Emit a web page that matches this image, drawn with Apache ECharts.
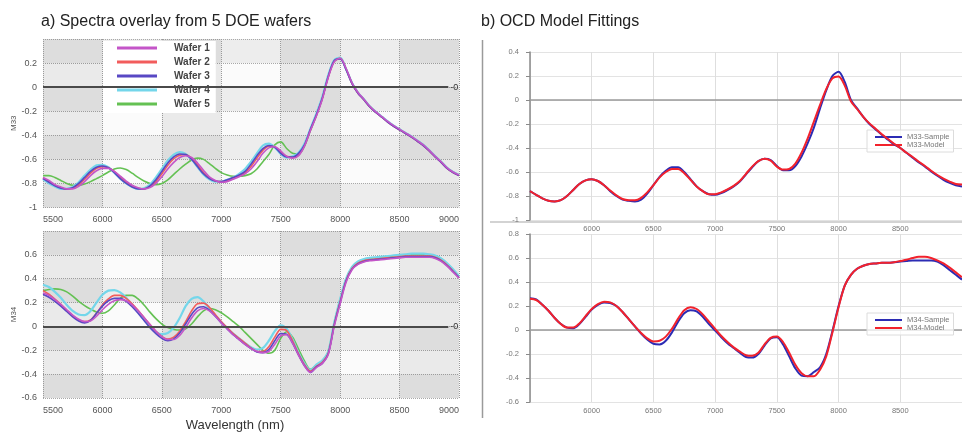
<!doctype html>
<html lang="en">
<head>
	<meta charset="utf-8">
	<title>Spectra overlay and OCD model fittings</title>
	<script src="https://cdn.jsdelivr.net/npm/echarts/dist/echarts.min.js"></script>
	<style>
		html, body { margin: 0; padding: 0; background: #fff; }
		#chart { width: 962px; height: 433px; }
	</style>
</head>
<body>
	<div id="chart"></div>
	<script>
		// wavelength grid (nm), shared by every curve
		var wavelength = [5500, 5550, 5600, 5650, 5700, 5750, 5800, 5850, 5900, 5950,
			6000, 6050, 6100, 6150, 6200, 6250, 6300, 6350, 6400, 6450,
			6500, 6550, 6600, 6650, 6700, 6750, 6800, 6850, 6900, 6950,
			7000, 7050, 7100, 7150, 7200, 7250, 7300, 7350, 7400, 7450,
			7500, 7550, 7600, 7650, 7700, 7750, 7800, 7850, 7900, 7950,
			8000, 8050, 8100, 8150, 8200, 8250, 8300, 8350, 8400, 8450,
			8500, 8550, 8600, 8650, 8700, 8750, 8800, 8850, 8900, 8950,
			9000];

		var waferNames = ['Wafer 1', 'Wafer 2', 'Wafer 3', 'Wafer 4', 'Wafer 5'];
		var waferColors = ['#c455c8', '#f25c5c', '#5848c4', '#74d6ea', '#64c153'];

		// a) M33 per wafer
		var m33Wafer1 = [-0.75, -0.775, -0.81, -0.83, -0.845, -0.845, -0.825, -0.785, -0.735, -0.695,
			-0.675, -0.675, -0.70, -0.74, -0.78, -0.815, -0.835, -0.845, -0.835, -0.80,
			-0.745, -0.68, -0.625, -0.585, -0.57, -0.585, -0.63, -0.69, -0.745, -0.775,
			-0.79, -0.785, -0.765, -0.745, -0.72, -0.68, -0.62, -0.55, -0.505, -0.495,
			-0.53, -0.575, -0.59, -0.57, -0.49, -0.36, -0.24, -0.10, 0.08, 0.21,
			0.24, 0.155, 0.035, -0.045, -0.10, -0.16, -0.205, -0.245, -0.285, -0.32,
			-0.35, -0.38, -0.41, -0.445, -0.48, -0.525, -0.575, -0.62, -0.67, -0.705,
			-0.73];
		var m33Wafer2 = [-0.755, -0.785, -0.815, -0.835, -0.845, -0.84, -0.81, -0.765, -0.715, -0.675,
			-0.66, -0.67, -0.70, -0.745, -0.79, -0.825, -0.84, -0.845, -0.825, -0.785,
			-0.72, -0.65, -0.595, -0.565, -0.56, -0.59, -0.645, -0.71, -0.755, -0.78,
			-0.785, -0.775, -0.755, -0.735, -0.71, -0.66, -0.59, -0.525, -0.49, -0.495,
			-0.54, -0.575, -0.585, -0.565, -0.485, -0.355, -0.235, -0.095, 0.085, 0.215,
			0.24, 0.15, 0.03, -0.05, -0.105, -0.165, -0.21, -0.25, -0.29, -0.325,
			-0.355, -0.385, -0.415, -0.45, -0.485, -0.53, -0.58, -0.625, -0.675, -0.71,
			-0.735];
		var m33Wafer3 = [-0.76, -0.79, -0.82, -0.84, -0.845, -0.835, -0.80, -0.75, -0.70, -0.665,
			-0.655, -0.67, -0.71, -0.76, -0.80, -0.83, -0.845, -0.845, -0.82, -0.77,
			-0.70, -0.63, -0.58, -0.555, -0.56, -0.60, -0.66, -0.72, -0.76, -0.78,
			-0.785, -0.77, -0.75, -0.73, -0.70, -0.64, -0.57, -0.51, -0.485, -0.50,
			-0.55, -0.58, -0.58, -0.55, -0.48, -0.35, -0.23, -0.09, 0.09, 0.22,
			0.235, 0.145, 0.03, -0.05, -0.105, -0.165, -0.21, -0.25, -0.29, -0.325,
			-0.355, -0.385, -0.415, -0.45, -0.485, -0.53, -0.58, -0.625, -0.675, -0.71,
			-0.735];
		var m33Wafer4 = [-0.765, -0.80, -0.825, -0.845, -0.845, -0.83, -0.79, -0.735, -0.685, -0.65,
			-0.645, -0.665, -0.71, -0.76, -0.80, -0.83, -0.845, -0.84, -0.81, -0.75,
			-0.68, -0.61, -0.56, -0.54, -0.555, -0.60, -0.665, -0.725, -0.765, -0.785,
			-0.785, -0.77, -0.75, -0.72, -0.68, -0.62, -0.55, -0.485, -0.47, -0.50,
			-0.555, -0.585, -0.575, -0.545, -0.47, -0.345, -0.22, -0.08, 0.10, 0.225,
			0.245, 0.15, 0.035, -0.045, -0.10, -0.16, -0.205, -0.245, -0.285, -0.32,
			-0.35, -0.38, -0.41, -0.445, -0.48, -0.525, -0.575, -0.62, -0.67, -0.705,
			-0.73];
		var m33Wafer5 = [-0.735, -0.735, -0.75, -0.775, -0.80, -0.815, -0.815, -0.805, -0.785, -0.76,
			-0.735, -0.705, -0.68, -0.672, -0.685, -0.715, -0.75, -0.78, -0.80, -0.81,
			-0.80, -0.77, -0.725, -0.68, -0.64, -0.605, -0.59, -0.60, -0.635, -0.675,
			-0.71, -0.73, -0.74, -0.74, -0.735, -0.72, -0.68, -0.62, -0.56, -0.48,
			-0.455, -0.51, -0.55, -0.555, -0.49, -0.36, -0.235, -0.09, 0.09, 0.215,
			0.24, 0.15, 0.035, -0.045, -0.10, -0.16, -0.205, -0.245, -0.285, -0.32,
			-0.35, -0.38, -0.41, -0.445, -0.48, -0.525, -0.575, -0.62, -0.67, -0.705,
			-0.73];

		// a) M34 per wafer
		var m34Wafer1 = [0.28, 0.26, 0.225, 0.185, 0.14, 0.095, 0.06, 0.04, 0.045, 0.085,
			0.14, 0.185, 0.215, 0.225, 0.215, 0.18, 0.13, 0.075, 0.015, -0.04,
			-0.085, -0.11, -0.11, -0.075, -0.01, 0.07, 0.13, 0.15, 0.13, 0.085,
			0.03, -0.02, -0.07, -0.11, -0.15, -0.185, -0.21, -0.22, -0.21, -0.15,
			-0.08, -0.07, -0.14, -0.24, -0.33, -0.385, -0.345, -0.31, -0.235, 0.0,
			0.19, 0.37, 0.475, 0.52, 0.54, 0.55, 0.555, 0.56, 0.565, 0.57,
			0.575, 0.58, 0.58, 0.58, 0.58, 0.58, 0.57, 0.545, 0.505, 0.455,
			0.405];
		var m34Wafer2 = [0.30, 0.27, 0.23, 0.185, 0.135, 0.09, 0.055, 0.04, 0.055, 0.11,
			0.18, 0.23, 0.26, 0.26, 0.235, 0.19, 0.135, 0.075, 0.015, -0.04,
			-0.085, -0.105, -0.09, -0.04, 0.04, 0.13, 0.19, 0.195, 0.16, 0.10,
			0.04, -0.01, -0.06, -0.10, -0.14, -0.18, -0.21, -0.21, -0.17, -0.09,
			-0.025, -0.035, -0.12, -0.23, -0.32, -0.375, -0.335, -0.30, -0.225, 0.015,
			0.21, 0.385, 0.485, 0.53, 0.55, 0.56, 0.565, 0.57, 0.575, 0.58,
			0.585, 0.59, 0.59, 0.59, 0.59, 0.59, 0.58, 0.555, 0.515, 0.465,
			0.41];
		var m34Wafer3 = [0.27, 0.245, 0.21, 0.17, 0.125, 0.08, 0.045, 0.03, 0.05, 0.11,
			0.17, 0.215, 0.235, 0.235, 0.21, 0.165, 0.11, 0.05, -0.01, -0.06,
			-0.10, -0.12, -0.105, -0.055, 0.02, 0.10, 0.155, 0.165, 0.135, 0.085,
			0.03, -0.02, -0.07, -0.11, -0.15, -0.185, -0.215, -0.22, -0.195, -0.12,
			-0.06, -0.065, -0.14, -0.24, -0.33, -0.385, -0.34, -0.31, -0.23, 0.01,
			0.20, 0.38, 0.48, 0.525, 0.545, 0.555, 0.56, 0.565, 0.57, 0.575,
			0.58, 0.585, 0.585, 0.585, 0.585, 0.585, 0.575, 0.55, 0.51, 0.46,
			0.41];
		var m34Wafer4 = [0.35, 0.33, 0.29, 0.24, 0.18, 0.13, 0.10, 0.095, 0.13, 0.20,
			0.265, 0.30, 0.305, 0.285, 0.24, 0.18, 0.12, 0.06, 0.0, -0.045,
			-0.065, -0.055, -0.01, 0.07, 0.17, 0.23, 0.245, 0.21, 0.15, 0.09,
			0.035, -0.015, -0.06, -0.10, -0.14, -0.175, -0.195, -0.18, -0.12, -0.04,
			0.01, -0.02, -0.11, -0.22, -0.31, -0.365, -0.32, -0.285, -0.21, 0.03,
			0.23, 0.40, 0.50, 0.545, 0.565, 0.575, 0.58, 0.585, 0.59, 0.595,
			0.60, 0.605, 0.61, 0.61, 0.61, 0.605, 0.595, 0.57, 0.53, 0.48,
			0.42];
		var m34Wafer5 = [0.30, 0.31, 0.315, 0.31, 0.29, 0.255, 0.21, 0.175, 0.145, 0.12,
			0.11, 0.13, 0.18, 0.235, 0.26, 0.26, 0.23, 0.18, 0.12, 0.065,
			0.02, -0.01, -0.025, -0.03, -0.02, 0.02, 0.08, 0.13, 0.15, 0.14,
			0.115, 0.08, 0.04, 0.0, -0.05, -0.10, -0.15, -0.20, -0.225, -0.20,
			-0.10, -0.045, -0.09, -0.19, -0.29, -0.36, -0.325, -0.29, -0.21, 0.025,
			0.225, 0.395, 0.495, 0.54, 0.56, 0.57, 0.575, 0.58, 0.585, 0.59,
			0.595, 0.60, 0.60, 0.60, 0.60, 0.60, 0.59, 0.565, 0.525, 0.475,
			0.42];

		// b) OCD model fittings
		var m33Sample = [-0.76, -0.79, -0.82, -0.84, -0.845, -0.835, -0.80, -0.75, -0.70, -0.67,
			-0.66, -0.675, -0.71, -0.76, -0.80, -0.83, -0.84, -0.845, -0.83, -0.78,
			-0.71, -0.64, -0.59, -0.56, -0.56, -0.60, -0.66, -0.72, -0.76, -0.785,
			-0.79, -0.775, -0.75, -0.72, -0.68, -0.62, -0.56, -0.51, -0.49, -0.50,
			-0.55, -0.585, -0.585, -0.55, -0.47, -0.36, -0.23, -0.07, 0.08, 0.20,
			0.235, 0.15, 0.0, -0.07, -0.14, -0.20, -0.245, -0.29, -0.33, -0.37,
			-0.40, -0.44, -0.48, -0.52, -0.555, -0.595, -0.63, -0.665, -0.69, -0.71,
			-0.72];
		var m33Model = [-0.76, -0.79, -0.82, -0.84, -0.845, -0.835, -0.80, -0.75, -0.70, -0.67,
			-0.66, -0.675, -0.71, -0.755, -0.795, -0.825, -0.835, -0.835, -0.815, -0.77,
			-0.71, -0.645, -0.60, -0.575, -0.575, -0.61, -0.665, -0.72, -0.76, -0.785,
			-0.785, -0.77, -0.745, -0.715, -0.675, -0.615, -0.555, -0.51, -0.49, -0.505,
			-0.555, -0.58, -0.575, -0.53, -0.44, -0.32, -0.18, -0.04, 0.09, 0.18,
			0.195, 0.12, -0.01, -0.075, -0.14, -0.195, -0.24, -0.285, -0.325, -0.365,
			-0.40, -0.44, -0.475, -0.515, -0.55, -0.59, -0.625, -0.655, -0.68, -0.70,
			-0.705];
		var m34Sample = [0.265, 0.255, 0.21, 0.16, 0.10, 0.05, 0.02, 0.015, 0.05, 0.11,
			0.17, 0.21, 0.23, 0.225, 0.20, 0.15, 0.09, 0.03, -0.03, -0.08,
			-0.115, -0.12, -0.09, -0.02, 0.07, 0.14, 0.165, 0.155, 0.11, 0.05,
			-0.005, -0.06, -0.11, -0.15, -0.19, -0.225, -0.23, -0.20, -0.13, -0.07,
			-0.06, -0.12, -0.22, -0.32, -0.38, -0.385, -0.35, -0.31, -0.20, -0.01,
			0.20, 0.37, 0.46, 0.51, 0.535, 0.55, 0.555, 0.56, 0.56, 0.565,
			0.57, 0.575, 0.58, 0.58, 0.58, 0.58, 0.57, 0.54, 0.50, 0.46,
			0.42];
		var m34Model = [0.26, 0.25, 0.21, 0.16, 0.10, 0.05, 0.02, 0.02, 0.055, 0.115,
			0.175, 0.215, 0.235, 0.23, 0.20, 0.15, 0.09, 0.03, -0.025, -0.07,
			-0.095, -0.09, -0.055, 0.01, 0.095, 0.165, 0.19, 0.175, 0.13, 0.07,
			0.01, -0.05, -0.10, -0.145, -0.18, -0.21, -0.215, -0.19, -0.12, -0.065,
			-0.055, -0.10, -0.19, -0.29, -0.36, -0.385, -0.385, -0.33, -0.22, -0.02,
			0.19, 0.37, 0.46, 0.51, 0.535, 0.55, 0.555, 0.56, 0.56, 0.565,
			0.575, 0.585, 0.60, 0.61, 0.61, 0.60, 0.58, 0.555, 0.52, 0.48,
			0.44];

		var m33Wafers = [m33Wafer1, m33Wafer2, m33Wafer3, m33Wafer4, m33Wafer5];
		var m34Wafers = [m34Wafer1, m34Wafer2, m34Wafer3, m34Wafer4, m34Wafer5];
		// drawing order, back to front
		var drawOrder = [4, 3, 1, 2, 0];

		function pairs(values) {
			return wavelength.map(function (w, i) { return [w, values[i]]; });
		}
		function plain(v) { return String(v); }

		var fontMain = 'Liberation Sans, Arial, sans-serif';

		function leftX(gridIndex) {
			return {
				type: 'value', gridIndex: gridIndex, min: 5500, max: 9000, interval: 500,
				axisLine: { show: false }, axisTick: { show: false },
				axisLabel: { fontSize: 9, color: '#555', margin: 8, fontFamily: fontMain, formatter: plain, alignMinLabel: 'left', alignMaxLabel: 'right' },
				splitLine: { show: true, lineStyle: { type: 'dotted', color: '#9a9a9a' } },
				splitArea: { show: true, areaStyle: { color: ['rgba(0,0,0,0.065)', 'rgba(0,0,0,0)'] } }
			};
		}
		function leftY(gridIndex, min, max, name) {
			return {
				type: 'value', gridIndex: gridIndex, min: min, max: max, interval: 0.2,
				name: name, nameLocation: 'middle', nameGap: 24,
				nameTextStyle: { fontSize: 8, color: '#555', fontFamily: fontMain },
				axisLine: { show: false }, axisTick: { show: false },
				axisLabel: { fontSize: 9, color: '#555', margin: 6, fontFamily: fontMain, showMaxLabel: false },
				splitLine: { show: true, lineStyle: { type: 'dotted', color: '#a8a8a8' } },
				splitArea: { show: true, areaStyle: { color: ['rgba(0,0,0,0.055)', 'rgba(0,0,0,0)'] } }
			};
		}
		function rightX(gridIndex) {
			return {
				type: 'value', gridIndex: gridIndex, min: 5500, max: 9000, interval: 500,
				axisLine: { show: true, onZero: true, lineStyle: { color: '#9a9a9a', width: 1.5 } },
				axisTick: { show: false },
				axisLabel: { fontSize: 7.5, color: '#777', margin: 5, fontFamily: fontMain, formatter: plain, showMinLabel: false, showMaxLabel: false },
				splitLine: { show: true, lineStyle: { color: '#dedede' } }
			};
		}
		function rightY(gridIndex, min, max) {
			return {
				type: 'value', gridIndex: gridIndex, min: min, max: max, interval: 0.2,
				axisLine: { show: true, lineStyle: { color: '#8a8a8a', width: 1.5 } },
				axisTick: { show: true, length: 4, lineStyle: { color: '#8a8a8a' } },
				axisLabel: { fontSize: 7.5, color: '#777', margin: 11, fontFamily: fontMain },
				splitLine: { show: true, lineStyle: { color: '#e3e3e3' } }
			};
		}

		function zeroLine() {
			return {
				silent: true, symbol: 'none',
				lineStyle: { color: '#4a4a4a', width: 2, type: 'solid' },
				label: { show: true, position: 'end', formatter: '-0', fontSize: 9, color: '#333', distance: 2 },
				data: [[{ coord: [5500, 0] }, { coord: [8910, 0] }]]
			};
		}

		var series = [];
		[m33Wafers, m34Wafers].forEach(function (set, panel) {
			drawOrder.forEach(function (w, k) {
				var s = {
					name: waferNames[w], type: 'line', xAxisIndex: panel, yAxisIndex: panel,
					data: pairs(set[w]), showSymbol: false, smooth: 0.3, z: 2,
					lineStyle: { color: waferColors[w], width: w === 3 ? 2.2 : 1.6 },
					itemStyle: { color: waferColors[w] }
				};
				if (k === 0) {
					s.markLine = zeroLine();
				}
				series.push(s);
			});
		});

		var sampleColor = '#2c2cb4';
		var modelColor = '#f2222c';
		[[m33Sample, m33Model, 'M33'], [m34Sample, m34Model, 'M34']].forEach(function (p, i) {
			series.push({
				name: p[2] + '-Sample', type: 'line', xAxisIndex: 2 + i, yAxisIndex: 2 + i,
				data: pairs(p[0]), showSymbol: false, smooth: 0.3, z: 3,
				lineStyle: { color: sampleColor, width: 2 }, itemStyle: { color: sampleColor }
			});
			series.push({
				name: p[2] + '-Model', type: 'line', xAxisIndex: 2 + i, yAxisIndex: 2 + i,
				data: pairs(p[1]), showSymbol: false, smooth: 0.3, z: 3,
				lineStyle: { color: modelColor, width: 2 }, itemStyle: { color: modelColor }
			});
		});

		var smallLegend = function (names, top) {
			return {
				data: names, left: 867, top: top, orient: 'vertical', icon: 'rect',
				itemWidth: 27, itemHeight: 2, itemGap: 0, z: 1,
				backgroundColor: 'rgba(255,255,255,0.75)', borderColor: '#dcdcdc', borderWidth: 1,
				padding: [3, 4, 3, 8],
				textStyle: { fontSize: 7.5, color: '#777', fontFamily: fontMain }
			};
		};

		var option = {
			animation: false,
			backgroundColor: '#ffffff',
			title: [
				{ text: 'a) Spectra overlay from 5 DOE wafers', left: 41, top: 14, padding: 0,
					textStyle: { fontSize: 16, fontWeight: 'normal', color: '#222', fontFamily: fontMain } },
				{ text: 'b) OCD Model Fittings', left: 481, top: 14, padding: 0,
					textStyle: { fontSize: 16, fontWeight: 'normal', color: '#222', fontFamily: fontMain } }
			],
			legend: [
				{
					data: waferNames, left: 103, top: 41, orient: 'vertical', icon: 'rect',
					itemWidth: 40, itemHeight: 3, itemGap: 4,
					backgroundColor: '#ffffff', padding: [2, 6, 4, 14],
					textStyle: { fontSize: 10, fontWeight: 'bold', color: '#444', fontFamily: fontMain, padding: [0, 0, 0, 12] }
				},
				smallLegend(['M33-Sample', 'M33-Model'], 130),
				smallLegend(['M34-Sample', 'M34-Model'], 313)
			],
			grid: [
				{ left: 43, top: 39, width: 416, height: 168.5, show: true, backgroundColor: '#fbfbfb', borderWidth: 0 },
				{ left: 43, top: 231, width: 416, height: 167.3, show: true, backgroundColor: '#fbfbfb', borderWidth: 0 },
				{ left: 530, top: 52, width: 433, height: 168 },
				{ left: 530, top: 234, width: 433, height: 168 }
			],
			xAxis: [
				leftX(0),
				Object.assign(leftX(1), {
					name: 'Wavelength (nm)', nameLocation: 'middle', nameGap: 21,
					nameTextStyle: { fontSize: 13, color: '#333', fontFamily: fontMain, padding: [0, 32, 0, 0] }
				}),
				rightX(2),
				rightX(3)
			],
			yAxis: [
				leftY(0, -1, 0.4, 'M33'),
				leftY(1, -0.6, 0.8, 'M34'),
				rightY(2, -1, 0.4),
				rightY(3, -0.6, 0.8)
			],
			graphic: [
				{ type: 'line', shape: { x1: 482.5, y1: 40, x2: 482.5, y2: 418 }, style: { stroke: '#9a9a9a', lineWidth: 1.5 } },
				{ type: 'line', shape: { x1: 490, y1: 222, x2: 962, y2: 222 }, style: { stroke: '#a8a8a8', lineWidth: 1.2 } }
			],
			series: series
		};

		var chart = echarts.init(document.getElementById('chart'));
		chart.setOption(option);
	</script>
</body>
</html>
